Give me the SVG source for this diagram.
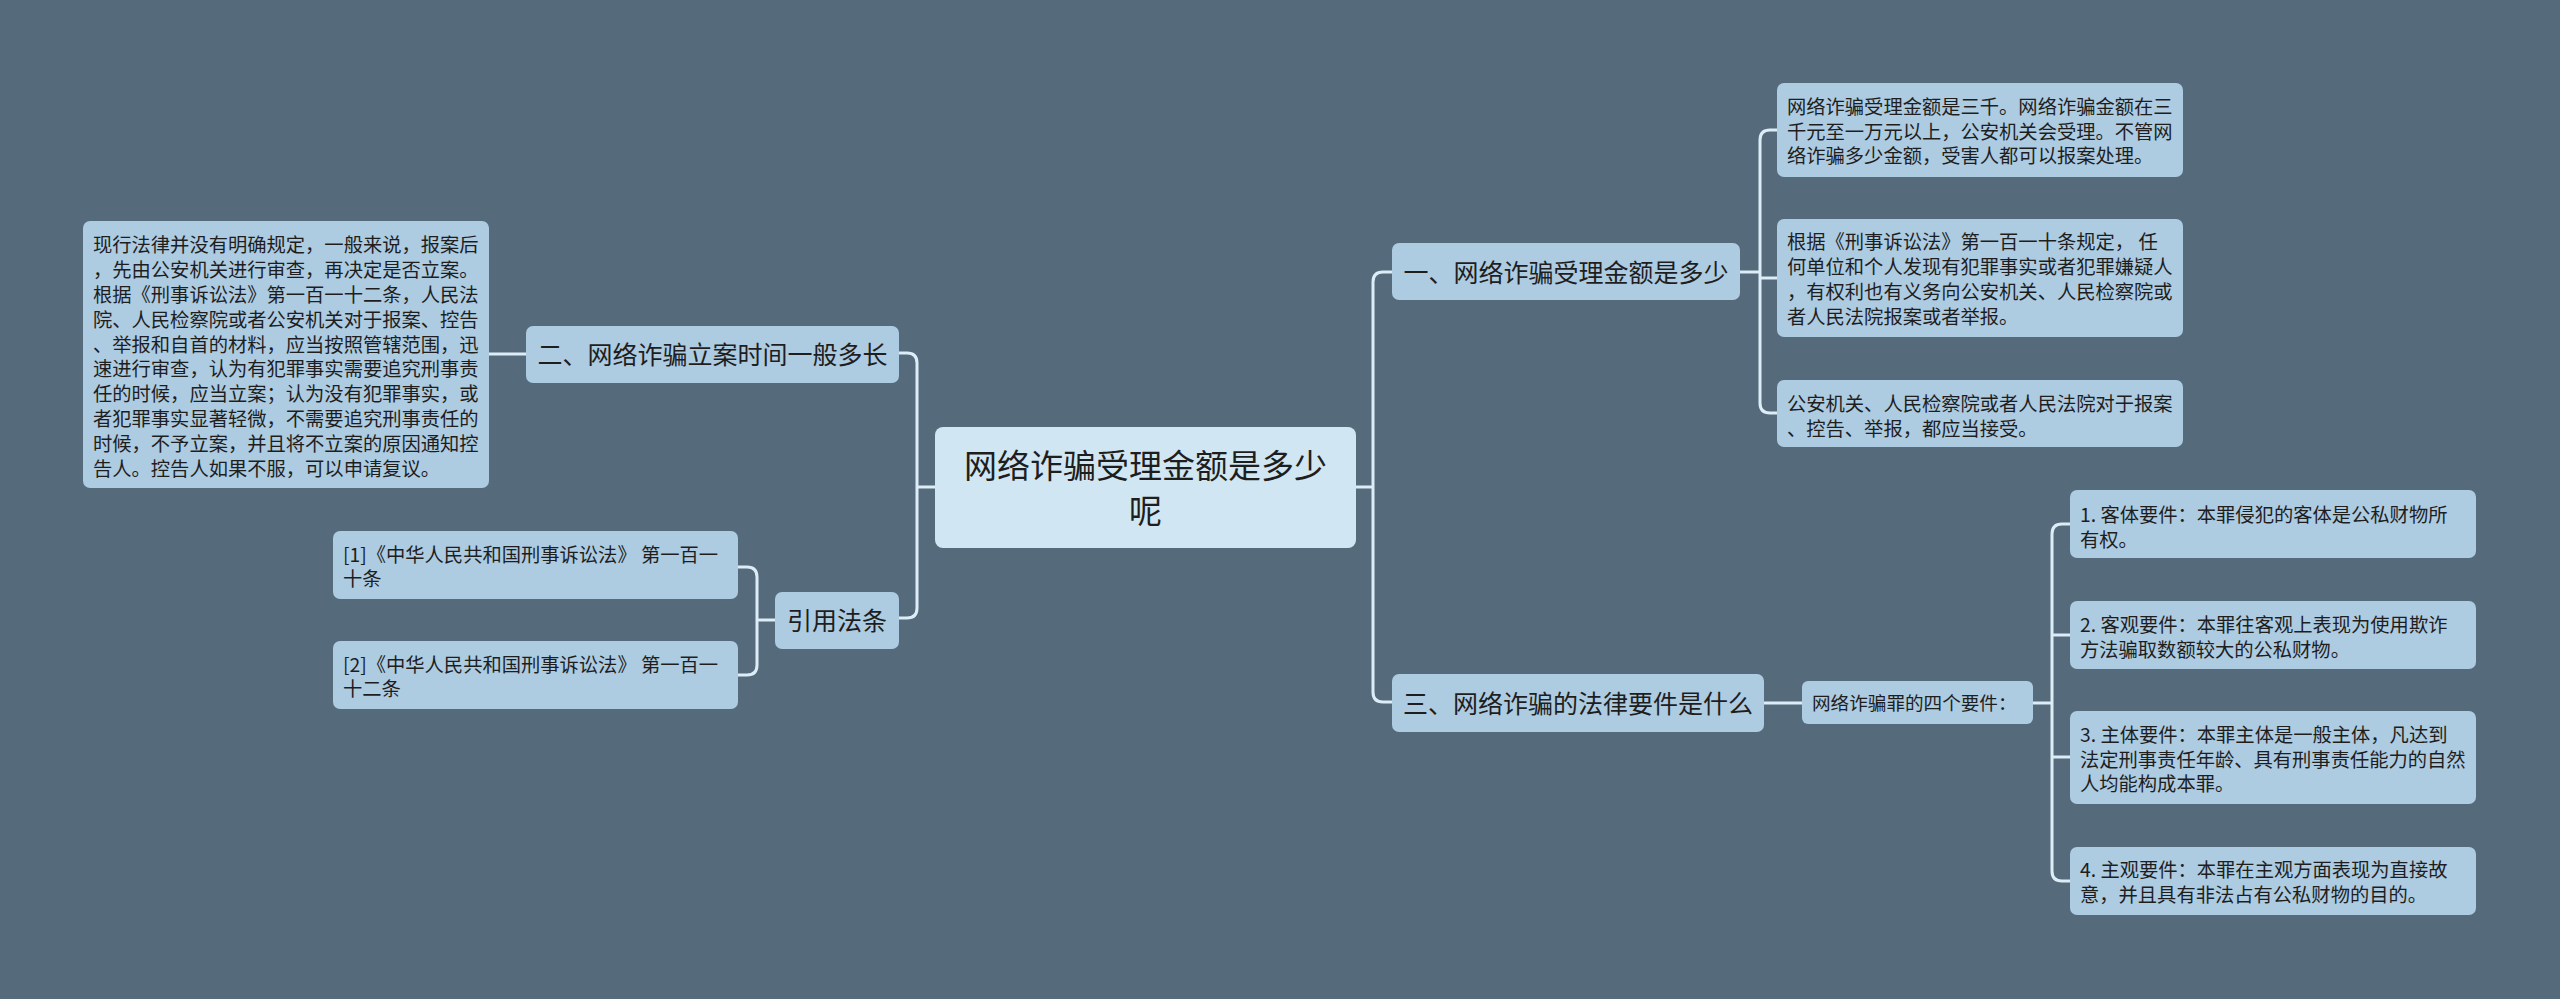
<svg xmlns="http://www.w3.org/2000/svg" width="2560" height="999" viewBox="0 0 2560 999">
<style>
.n{fill:#adcbe1;}
.c{fill:#d0e6f2;}
text{font-family:"Noto Sans CJK SC","Noto Sans",sans-serif;fill:#1e1e1e;}
.t{font-size:19.3px;}
.h{font-size:25px;}
.m{font-size:18.6px;}
.big{font-size:33px;}
.e{fill:none;stroke:#dcedf8;stroke-width:3;}
</style>
<rect width="2560" height="999" fill="#556a7a"/>
<g id="connectors" class="e">
<path d="M935 487H917"/>
<path d="M898 353H907Q917 353 917 363V608Q917 618 907 618H898"/>
<path d="M1356 487H1373"/>
<path d="M1392 272H1383Q1373 272 1373 282V692Q1373 702 1383 702H1392"/>
<path d="M1740 272H1760"/>
<path d="M1777 130H1770Q1760 130 1760 140V403Q1760 413 1770 413H1777"/>
<path d="M1760 278H1777"/>
<path d="M1764 703H1802"/>
<path d="M2033 703H2052"/>
<path d="M2070 524H2062Q2052 524 2052 534V871Q2052 881 2062 881H2070"/>
<path d="M2052 635H2070"/>
<path d="M2052 757H2070"/>
<path d="M526 354H489"/>
<path d="M775 620H757"/>
<path d="M738 567H747Q757 567 757 577V665Q757 675 747 675H738"/>
</g>
<g id="root">
<rect class="c" x="935" y="427" width="421" height="121" rx="8"/>
<text class="big" x="1145.5" y="477.5" text-anchor="middle">网络诈骗受理金额是多少</text>
<text class="big" x="1145.5" y="522.5" text-anchor="middle">呢</text>
</g>
<g id="n2">
<rect class="n" x="526" y="326" width="373" height="57" rx="7"/>
<text class="h" x="712.5" y="364" text-anchor="middle">二、网络诈骗立案时间一般多长</text>
</g>
<g id="n2a">
<rect class="n" x="83" y="221" width="406" height="267" rx="7"/>
<text class="t" x="93">
<tspan x="93" y="252.3">现行法律并没有明确规定，一般来说，报案后</tspan>
<tspan x="93" y="277.1">，先由公安机关进行审查，再决定是否立案。</tspan>
<tspan x="93" y="301.9">根据《刑事诉讼法》第一百一十二条，人民法</tspan>
<tspan x="93" y="326.7">院、人民检察院或者公安机关对于报案、控告</tspan>
<tspan x="93" y="351.5">、举报和自首的材料，应当按照管辖范围，迅</tspan>
<tspan x="93" y="376.3">速进行审查，认为有犯罪事实需要追究刑事责</tspan>
<tspan x="93" y="401.1">任的时候，应当立案；认为没有犯罪事实，或</tspan>
<tspan x="93" y="425.9">者犯罪事实显著轻微，不需要追究刑事责任的</tspan>
<tspan x="93" y="450.7">时候，不予立案，并且将不立案的原因通知控</tspan>
<tspan x="93" y="475.5">告人。控告人如果不服，可以申请复议。</tspan>
</text>
</g>
<g id="n4">
<rect class="n" x="775" y="592" width="124" height="57" rx="7"/>
<text class="h" x="837" y="629.5" text-anchor="middle">引用法条</text>
</g>
<g id="n4a">
<rect class="n" x="333" y="531" width="405" height="68" rx="7"/>
<text class="t"><tspan x="343" y="562.3">[1]《中华人民共和国刑事诉讼法》 第一百一</tspan><tspan x="343" y="585.8">十条</tspan></text>
</g>
<g id="n4b">
<rect class="n" x="333" y="641" width="405" height="68" rx="7"/>
<text class="t"><tspan x="343" y="672.3">[2]《中华人民共和国刑事诉讼法》 第一百一</tspan><tspan x="343" y="695.8">十二条</tspan></text>
</g>
<g id="n1">
<rect class="n" x="1392" y="243" width="348" height="57" rx="7"/>
<text class="h" x="1566" y="281.5" text-anchor="middle">一、网络诈骗受理金额是多少</text>
</g>
<g id="n1a">
<rect class="n" x="1777" y="83" width="406" height="94" rx="7"/>
<text class="t"><tspan x="1787" y="114">网络诈骗受理金额是三千。网络诈骗金额在三</tspan><tspan x="1787" y="138.7">千元至一万元以上，公安机关会受理。不管网</tspan><tspan x="1787" y="163.4">络诈骗多少金额，受害人都可以报案处理。</tspan></text>
</g>
<g id="n1b">
<rect class="n" x="1777" y="219" width="406" height="118" rx="7"/>
<text class="t"><tspan x="1787" y="249">根据《刑事诉讼法》第一百一十条规定， 任</tspan><tspan x="1787" y="274">何单位和个人发现有犯罪事实或者犯罪嫌疑人</tspan><tspan x="1787" y="299">，有权利也有义务向公安机关、人民检察院或</tspan><tspan x="1787" y="324">者人民法院报案或者举报。</tspan></text>
</g>
<g id="n1c">
<rect class="n" x="1777" y="380" width="406" height="67" rx="7"/>
<text class="t"><tspan x="1787" y="410.6">公安机关、人民检察院或者人民法院对于报案</tspan><tspan x="1787" y="435.6">、控告、举报，都应当接受。</tspan></text>
</g>
<g id="n3">
<rect class="n" x="1392" y="674" width="372" height="58" rx="7"/>
<text class="h" x="1578" y="712.5" text-anchor="middle">三、网络诈骗的法律要件是什么</text>
</g>
<g id="n3a">
<rect class="n" x="1802" y="681" width="231" height="43" rx="6"/>
<text class="m" x="1812" y="710">网络诈骗罪的四个要件：</text>
</g>
<g id="n3b">
<rect class="n" x="2070" y="490" width="406" height="68" rx="7"/>
<text class="t"><tspan x="2080" y="521.6">1. 客体要件：本罪侵犯的客体是公私财物所</tspan><tspan x="2080" y="546.6">有权。</tspan></text>
</g>
<g id="n3c">
<rect class="n" x="2070" y="601" width="406" height="68" rx="7"/>
<text class="t"><tspan x="2080" y="631.6">2. 客观要件：本罪往客观上表现为使用欺诈</tspan><tspan x="2080" y="657.1">方法骗取数额较大的公私财物。</tspan></text>
</g>
<g id="n3d">
<rect class="n" x="2070" y="711" width="406" height="93" rx="7"/>
<text class="t"><tspan x="2080" y="742.3">3. 主体要件：本罪主体是一般主体，凡达到</tspan><tspan x="2080" y="766.8">法定刑事责任年龄、具有刑事责任能力的自然</tspan><tspan x="2080" y="791.3">人均能构成本罪。</tspan></text>
</g>
<g id="n3e">
<rect class="n" x="2070" y="847" width="406" height="68" rx="7"/>
<text class="t"><tspan x="2080" y="877.3">4. 主观要件：本罪在主观方面表现为直接故</tspan><tspan x="2080" y="902.3">意，并且具有非法占有公私财物的目的。</tspan></text>
</g>
</svg>
